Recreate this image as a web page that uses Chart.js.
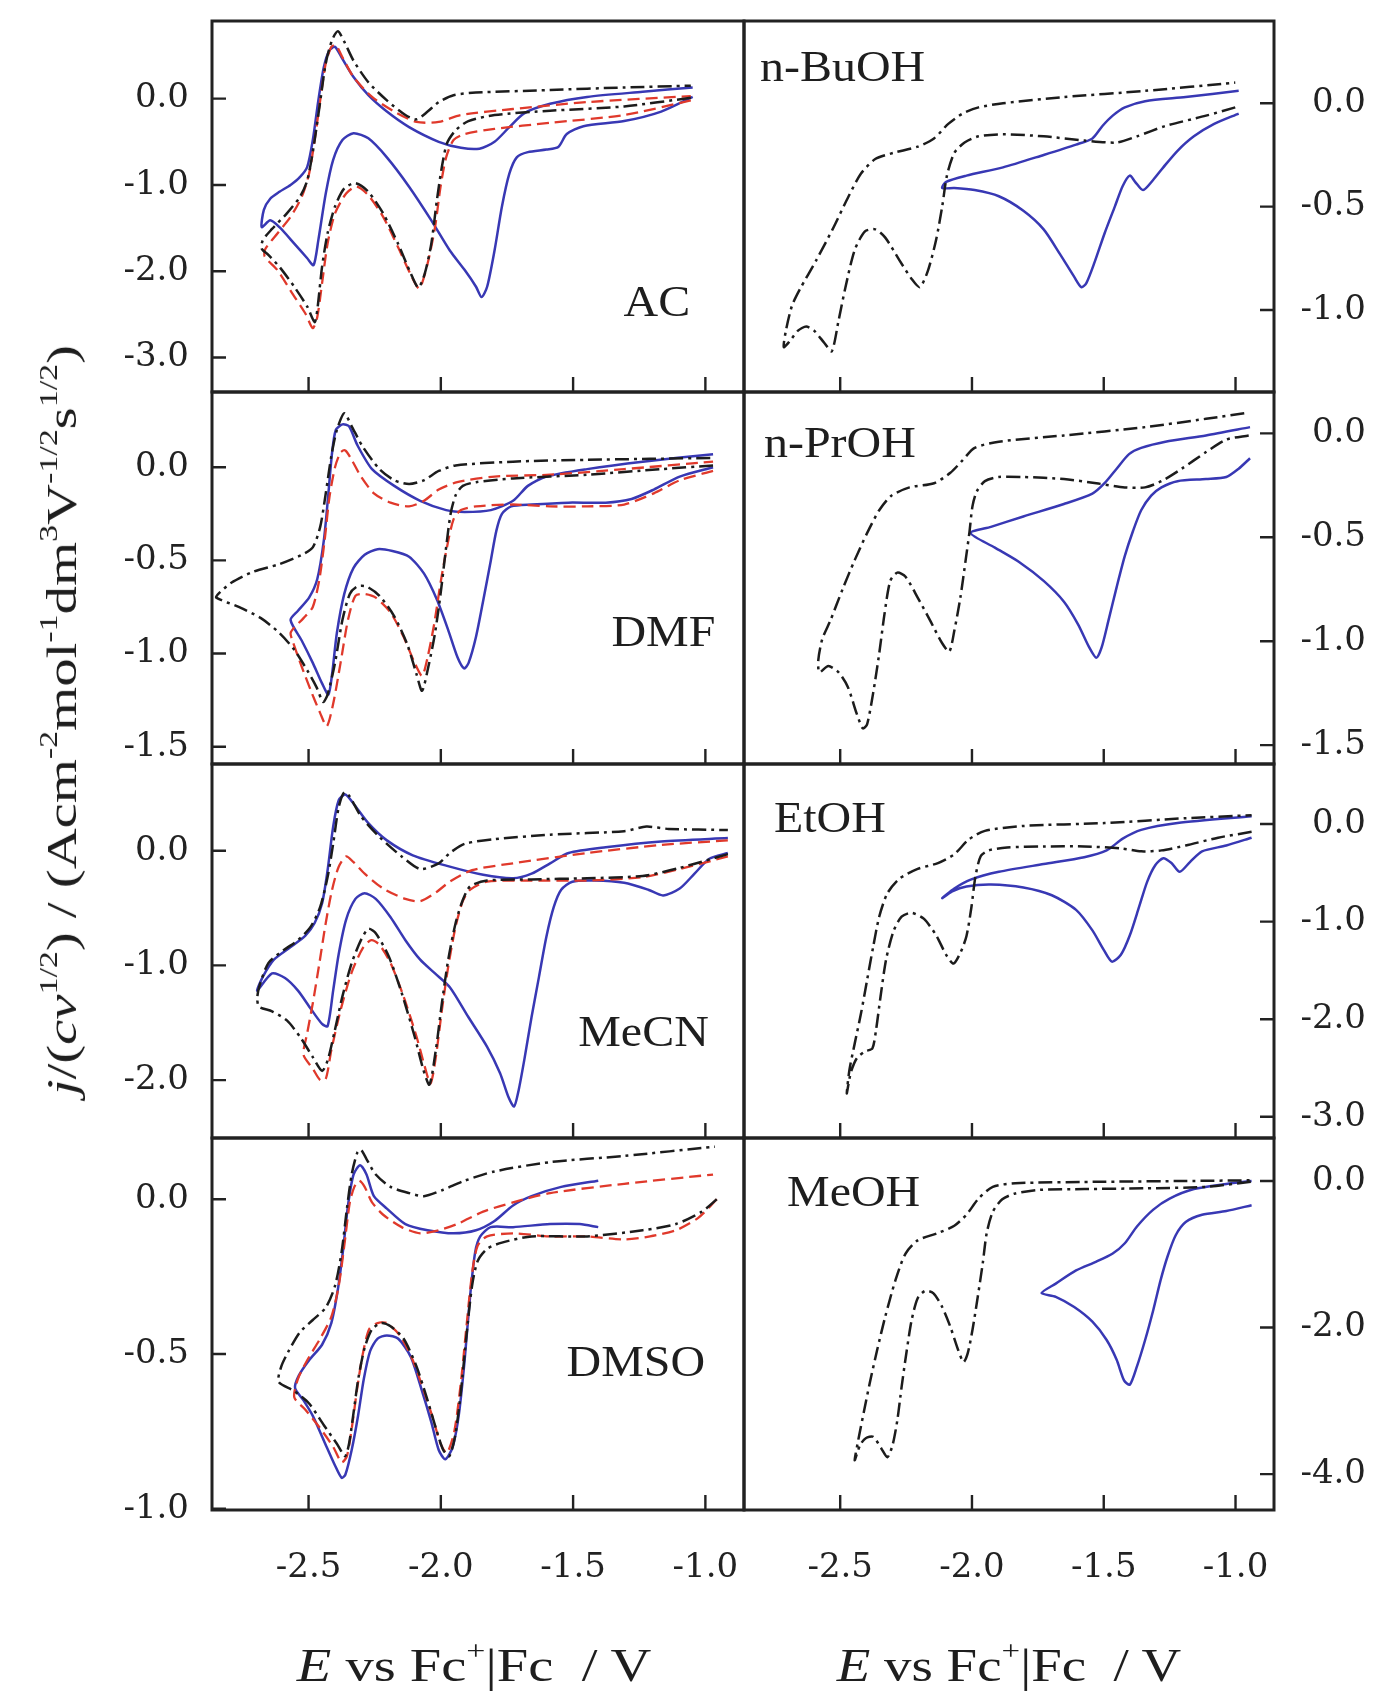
<!DOCTYPE html>
<html>
<head>
<meta charset="utf-8">
<script src="https://cdn.jsdelivr.net/npm/chart.js@4.4.1/dist/chart.umd.min.js"></script>
<style>
  body { margin: 0; background: #fff; }
  #page { position: relative; width: 1376px; height: 1691px; font-family: "Liberation Serif", serif; color: #1e1e1e; overflow: hidden; }
  #page canvas { position: absolute; left: 0; top: 0; }
  .name { position: absolute; font-size: 44px; line-height: 44px; white-space: nowrap; transform: scaleX(1.09); z-index: 5; }
  .title { position: absolute; white-space: pre; z-index: 5; }
  .title sup { font-size: 60%; vertical-align: 0; position: relative; top: -0.75em; line-height: 0; }
</style>
</head>
<body>
<div id="page"></div>
<script>
// E axis (same for every panel)
const xTicks = [-2.5, -2.0, -1.5, -1.0];
const xMin = -2.865, xMax = -0.854;

// ---- AC ----
const acTicks = [0.0, -1.0, -2.0, -3.0];
const acBlack = [[-1.055,0.01],[-1.307,-0.09],[-1.587,-0.14],[-1.797,-0.19],[-1.896,-0.26],[-1.945,-0.37],[-1.977,-0.52],[-1.996,-0.79],[-2.015,-1.18],[-2.036,-1.68],[-2.061,-2.03],[-2.085,-2.19],[-2.113,-2.03],[-2.162,-1.68],[-2.218,-1.33],[-2.274,-1.08],[-2.323,-0.98],[-2.365,-1.04],[-2.400,-1.25],[-2.428,-1.56],[-2.449,-1.95],[-2.467,-2.45],[-2.477,-2.59],[-2.505,-2.41],[-2.554,-2.18],[-2.610,-1.95],[-2.652,-1.81],[-2.677,-1.74],
  [-2.673,-1.64],[-2.638,-1.51],[-2.582,-1.33],[-2.533,-1.14],[-2.505,-0.95],[-2.481,-0.56],[-2.459,-0.10],[-2.435,0.41],[-2.411,0.68],[-2.389,0.78],[-2.365,0.66],[-2.330,0.44],[-2.274,0.19],[-2.204,-0.02],[-2.134,-0.19],[-2.092,-0.24],[-2.050,-0.15],[-2.008,-0.04],[-1.952,0.04],[-1.868,0.07],[-1.587,0.10],[-1.307,0.13],[-1.055,0.15]];
const acRed = [[-1.055,-0.02],[-1.307,-0.19],[-1.587,-0.28],[-1.797,-0.35],[-1.910,-0.41],[-1.952,-0.48],[-1.980,-0.68],[-2.001,-1.02],[-2.022,-1.49],[-2.050,-1.91],[-2.081,-2.20],[-2.109,-2.07],[-2.162,-1.72],[-2.218,-1.37],[-2.274,-1.12],[-2.319,-1.02],[-2.358,-1.10],[-2.400,-1.33],[-2.428,-1.68],[-2.449,-2.14],[-2.467,-2.53],[-2.484,-2.66],[-2.512,-2.49],[-2.561,-2.26],[-2.617,-1.99],[-2.666,-1.83],
  [-2.663,-1.74],[-2.617,-1.56],[-2.568,-1.37],[-2.526,-1.14],[-2.498,-0.87],[-2.477,-0.48],[-2.456,-0.02],[-2.435,0.41],[-2.414,0.60],[-2.397,0.62],[-2.372,0.48],[-2.330,0.25],[-2.260,0.02],[-2.176,-0.15],[-2.092,-0.27],[-2.008,-0.27],[-1.924,-0.19],[-1.727,-0.12],[-1.447,-0.04],[-1.055,0.03]];
const acBlue = [[-1.048,0.02],[-1.167,-0.15],[-1.307,-0.26],[-1.461,-0.32],[-1.524,-0.41],[-1.556,-0.56],[-1.601,-0.59],[-1.671,-0.62],[-1.713,-0.68],[-1.741,-0.87],[-1.769,-1.25],[-1.797,-1.76],[-1.825,-2.18],[-1.846,-2.30],[-1.867,-2.18],[-1.909,-1.99],[-1.966,-1.76],[-2.036,-1.41],[-2.120,-1.02],[-2.204,-0.68],[-2.274,-0.46],[-2.330,-0.40],[-2.372,-0.48],[-2.407,-0.71],[-2.435,-1.10],[-2.463,-1.64],[-2.481,-1.93],[-2.505,-1.85],[-2.554,-1.68],[-2.610,-1.49],[-2.645,-1.41],[-2.677,-1.49],
  [-2.669,-1.29],[-2.645,-1.16],[-2.610,-1.08],[-2.568,-1.00],[-2.533,-0.91],[-2.505,-0.79],[-2.484,-0.48],[-2.463,-0.02],[-2.442,0.37],[-2.421,0.56],[-2.400,0.60],[-2.372,0.46],[-2.330,0.25],[-2.274,0.04],[-2.204,-0.15],[-2.120,-0.33],[-2.008,-0.50],[-1.924,-0.57],[-1.854,-0.58],[-1.797,-0.50],[-1.741,-0.33],[-1.685,-0.17],[-1.587,-0.06],[-1.447,0.02],[-1.237,0.08],[-1.048,0.13]];

// ---- n-BuOH ----
const buTicks = [0.0, -0.5, -1.0];
const buBlack = [[-1.001,-0.02],[-1.112,-0.06],[-1.266,-0.11],[-1.374,-0.16],[-1.451,-0.19],[-1.574,-0.18],[-1.728,-0.16],[-1.882,-0.15],[-1.975,-0.16],[-2.028,-0.19],[-2.067,-0.24],[-2.095,-0.35],[-2.113,-0.50],[-2.136,-0.66],[-2.167,-0.81],[-2.198,-0.89],[-2.229,-0.85],[-2.275,-0.76],[-2.329,-0.65],[-2.367,-0.61],[-2.406,-0.62],[-2.445,-0.71],[-2.480,-0.89],[-2.506,-1.05],[-2.532,-1.20],[-2.560,-1.16],[-2.599,-1.10],[-2.629,-1.08],[-2.660,-1.10],[-2.691,-1.15],[-2.714,-1.18],
  [-2.706,-1.10],[-2.683,-0.98],[-2.653,-0.90],[-2.591,-0.76],[-2.529,-0.61],[-2.468,-0.45],[-2.421,-0.34],[-2.367,-0.27],[-2.298,-0.24],[-2.206,-0.21],[-2.144,-0.17],[-2.090,-0.10],[-2.036,-0.05],[-1.975,-0.02],[-1.882,0.00],[-1.651,0.03],[-1.343,0.06],[-1.001,0.10]];
const buBlue = [[-0.988,-0.05],[-1.081,-0.10],[-1.158,-0.16],[-1.220,-0.23],[-1.274,-0.31],[-1.312,-0.37],[-1.351,-0.42],[-1.381,-0.38],[-1.401,-0.35],[-1.428,-0.40],[-1.458,-0.50],[-1.497,-0.63],[-1.535,-0.77],[-1.566,-0.87],[-1.585,-0.89],[-1.612,-0.84],[-1.666,-0.73],[-1.728,-0.61],[-1.805,-0.52],[-1.898,-0.45],[-1.990,-0.42],[-2.067,-0.41],[-2.113,-0.41],
  [-2.098,-0.38],[-2.021,-0.35],[-1.882,-0.31],[-1.728,-0.25],[-1.605,-0.20],[-1.543,-0.17],[-1.505,-0.11],[-1.466,-0.06],[-1.420,-0.02],[-1.343,0.01],[-1.189,0.03],[-0.988,0.06]];

// ---- DMF ----
const dmfTicks = [0.0, -0.5, -1.0, -1.5];
const dmfBlack = [[-0.971,0.01],[-1.167,-0.01],[-1.447,-0.04],[-1.727,-0.06],[-1.867,-0.08],[-1.917,-0.10],[-1.944,-0.15],[-1.963,-0.25],[-1.980,-0.43],[-2.001,-0.68],[-2.022,-0.89],[-2.047,-1.07],[-2.071,-1.20],[-2.092,-1.11],[-2.127,-0.95],[-2.176,-0.80],[-2.232,-0.69],[-2.281,-0.64],[-2.316,-0.64],[-2.344,-0.68],[-2.372,-0.82],[-2.400,-1.05],[-2.428,-1.22],[-2.445,-1.26],[-2.470,-1.18],[-2.505,-1.09],[-2.554,-0.98],[-2.610,-0.89],[-2.680,-0.81],[-2.764,-0.75],[-2.849,-0.70],
  [-2.841,-0.68],[-2.792,-0.62],[-2.708,-0.56],[-2.610,-0.52],[-2.526,-0.47],[-2.484,-0.43],[-2.456,-0.32],[-2.435,-0.14],[-2.414,0.06],[-2.393,0.20],[-2.365,0.29],[-2.337,0.22],[-2.295,0.11],[-2.232,-0.01],[-2.176,-0.07],[-2.120,-0.09],[-2.064,-0.07],[-2.008,-0.02],[-1.944,0.01],[-1.727,0.03],[-1.447,0.04],[-0.971,0.05]];
const dmfRed = [[-0.971,-0.02],[-1.097,-0.07],[-1.195,-0.14],[-1.307,-0.20],[-1.447,-0.21],[-1.587,-0.21],[-1.727,-0.20],[-1.867,-0.21],[-1.924,-0.23],[-1.952,-0.28],[-1.977,-0.43],[-2.001,-0.62],[-2.025,-0.84],[-2.050,-1.02],[-2.071,-1.12],[-2.099,-1.05],[-2.141,-0.91],[-2.190,-0.78],[-2.246,-0.70],[-2.288,-0.68],[-2.323,-0.69],[-2.351,-0.82],[-2.379,-1.05],[-2.407,-1.27],[-2.431,-1.39],[-2.456,-1.32],[-2.491,-1.20],[-2.526,-1.07],[-2.561,-0.93],[-2.568,-0.89],
  [-2.554,-0.86],[-2.519,-0.81],[-2.484,-0.75],[-2.459,-0.60],[-2.439,-0.39],[-2.421,-0.16],[-2.400,0.00],[-2.379,0.08],[-2.361,0.09],[-2.337,0.04],[-2.302,-0.05],[-2.253,-0.14],[-2.190,-0.19],[-2.120,-0.21],[-2.064,-0.18],[-2.008,-0.12],[-1.938,-0.08],[-1.797,-0.05],[-1.587,-0.04],[-1.307,-0.01],[-0.971,0.03]];
const dmfBlue = [[-0.971,0.00],[-1.097,-0.05],[-1.195,-0.12],[-1.279,-0.17],[-1.377,-0.19],[-1.517,-0.19],[-1.657,-0.20],[-1.734,-0.21],[-1.769,-0.25],[-1.790,-0.34],[-1.811,-0.50],[-1.839,-0.71],[-1.867,-0.91],[-1.895,-1.05],[-1.912,-1.08],[-1.937,-1.02],[-1.973,-0.87],[-2.015,-0.71],[-2.064,-0.57],[-2.120,-0.48],[-2.183,-0.45],[-2.239,-0.44],[-2.288,-0.47],[-2.330,-0.54],[-2.365,-0.68],[-2.393,-0.89],[-2.411,-1.11],[-2.425,-1.22],[-2.449,-1.16],[-2.484,-1.05],[-2.526,-0.93],[-2.568,-0.82],
  [-2.540,-0.77],[-2.498,-0.70],[-2.467,-0.60],[-2.442,-0.39],[-2.425,-0.14],[-2.411,0.08],[-2.397,0.20],[-2.372,0.23],[-2.347,0.22],[-2.316,0.12],[-2.260,-0.01],[-2.176,-0.10],[-2.078,-0.18],[-1.980,-0.23],[-1.910,-0.24],[-1.811,-0.23],[-1.727,-0.18],[-1.671,-0.10],[-1.601,-0.05],[-1.447,-0.01],[-1.237,0.03],[-0.971,0.07]];

// ---- n-PrOH ----
const prTicks = [0.0, -0.5, -1.0, -1.5];
const prBlack = [[-0.950,-0.01],[-1.035,-0.03],[-1.112,-0.09],[-1.204,-0.17],[-1.281,-0.23],[-1.343,-0.26],[-1.420,-0.26],[-1.528,-0.24],[-1.651,-0.22],[-1.805,-0.21],[-1.898,-0.21],[-1.951,-0.23],[-1.982,-0.28],[-1.998,-0.35],[-2.010,-0.48],[-2.024,-0.61],[-2.044,-0.79],[-2.067,-0.95],[-2.086,-1.05],[-2.113,-1.01],[-2.159,-0.90],[-2.206,-0.79],[-2.252,-0.69],[-2.283,-0.67],[-2.310,-0.71],[-2.332,-0.87],[-2.352,-1.06],[-2.375,-1.25],[-2.398,-1.40],[-2.414,-1.42],[-2.437,-1.35],[-2.471,-1.22],[-2.506,-1.15],[-2.545,-1.12],[-2.579,-1.15],
  [-2.583,-1.09],[-2.568,-0.99],[-2.537,-0.90],[-2.491,-0.75],[-2.445,-0.61],[-2.398,-0.48],[-2.352,-0.37],[-2.306,-0.30],[-2.237,-0.26],[-2.144,-0.24],[-2.082,-0.19],[-2.036,-0.13],[-1.990,-0.07],[-1.898,-0.04],[-1.651,-0.01],[-1.343,0.03],[-1.112,0.07],[-0.950,0.10]];
const prBlue = [[-0.945,-0.12],[-0.988,-0.17],[-1.035,-0.21],[-1.112,-0.22],[-1.220,-0.23],[-1.281,-0.26],[-1.320,-0.30],[-1.358,-0.37],[-1.389,-0.47],[-1.420,-0.59],[-1.451,-0.74],[-1.482,-0.90],[-1.508,-1.03],[-1.528,-1.08],[-1.555,-1.03],[-1.597,-0.92],[-1.651,-0.81],[-1.728,-0.71],[-1.820,-0.62],[-1.913,-0.55],[-2.005,-0.48],
  [-1.928,-0.45],[-1.805,-0.40],[-1.651,-0.34],[-1.543,-0.29],[-1.497,-0.24],[-1.451,-0.17],[-1.404,-0.10],[-1.358,-0.07],[-1.266,-0.04],[-1.112,-0.01],[-0.945,0.03]];

// ---- MeCN ----
const mecnTicks = [0.0, -1.0, -2.0];
const mecnBlack = [[-0.915,-0.03],[-1.097,-0.15],[-1.237,-0.22],[-1.447,-0.24],[-1.657,-0.25],[-1.825,-0.26],[-1.889,-0.31],[-1.917,-0.43],[-1.944,-0.63],[-1.972,-0.95],[-1.996,-1.33],[-2.019,-1.74],[-2.043,-2.04],[-2.066,-1.91],[-2.099,-1.62],[-2.148,-1.24],[-2.197,-0.92],[-2.246,-0.72],[-2.274,-0.68],[-2.302,-0.78],[-2.337,-0.98],[-2.372,-1.27],[-2.403,-1.59],[-2.428,-1.83],[-2.449,-1.92],[-2.484,-1.80],[-2.533,-1.62],[-2.582,-1.48],[-2.638,-1.40],[-2.687,-1.36],[-2.694,-1.29],
  [-2.687,-1.19],[-2.652,-0.98],[-2.596,-0.87],[-2.540,-0.78],[-2.491,-0.66],[-2.456,-0.49],[-2.428,-0.23],[-2.407,0.06],[-2.386,0.38],[-2.365,0.51],[-2.344,0.47],[-2.302,0.30],[-2.232,0.12],[-2.148,-0.05],[-2.078,-0.16],[-2.008,-0.11],[-1.966,-0.02],[-1.910,0.06],[-1.797,0.10],[-1.587,0.14],[-1.307,0.17],[-1.223,0.21],[-1.139,0.19],[-0.915,0.18]];
const mecnRed = [[-0.915,-0.05],[-1.097,-0.16],[-1.237,-0.23],[-1.447,-0.26],[-1.657,-0.26],[-1.825,-0.27],[-1.889,-0.34],[-1.917,-0.44],[-1.944,-0.66],[-1.972,-1.01],[-1.996,-1.39],[-2.019,-1.80],[-2.039,-2.03],[-2.061,-1.88],[-2.092,-1.62],[-2.141,-1.27],[-2.190,-0.98],[-2.232,-0.82],[-2.263,-0.78],[-2.295,-0.85],[-2.337,-1.06],[-2.379,-1.39],[-2.414,-1.74],[-2.435,-1.99],[-2.456,-2.00],[-2.484,-1.90],[-2.519,-1.78],
  [-2.505,-1.59],[-2.484,-1.33],[-2.459,-0.98],[-2.435,-0.63],[-2.411,-0.34],[-2.386,-0.14],[-2.358,-0.05],[-2.330,-0.10],[-2.288,-0.20],[-2.218,-0.33],[-2.134,-0.42],[-2.078,-0.44],[-2.022,-0.37],[-1.966,-0.27],[-1.882,-0.17],[-1.727,-0.11],[-1.447,-0.02],[-1.167,0.05],[-0.915,0.09]];
const mecnBlue = [[-0.915,-0.02],[-0.985,-0.07],[-1.041,-0.20],[-1.097,-0.33],[-1.160,-0.39],[-1.216,-0.34],[-1.307,-0.28],[-1.419,-0.26],[-1.503,-0.27],[-1.545,-0.34],[-1.573,-0.49],[-1.601,-0.75],[-1.629,-1.10],[-1.657,-1.45],[-1.685,-1.83],[-1.706,-2.09],[-1.723,-2.23],[-1.744,-2.15],[-1.776,-1.94],[-1.825,-1.71],[-1.896,-1.45],[-1.966,-1.19],[-2.022,-1.07],[-2.078,-0.95],[-2.134,-0.78],[-2.190,-0.58],[-2.246,-0.42],[-2.288,-0.37],[-2.323,-0.42],[-2.358,-0.60],[-2.386,-0.90],[-2.407,-1.22],[-2.428,-1.53],[-2.449,-1.51],[-2.491,-1.38],[-2.540,-1.22],[-2.589,-1.11],[-2.638,-1.07],[-2.694,-1.22],
  [-2.673,-1.10],[-2.631,-0.95],[-2.568,-0.84],[-2.512,-0.74],[-2.477,-0.63],[-2.449,-0.46],[-2.428,-0.17],[-2.407,0.21],[-2.386,0.44],[-2.361,0.49],[-2.330,0.41],[-2.274,0.24],[-2.204,0.09],[-2.106,-0.04],[-1.980,-0.13],[-1.840,-0.21],[-1.727,-0.24],[-1.657,-0.20],[-1.587,-0.11],[-1.517,-0.02],[-1.377,0.03],[-1.167,0.08],[-0.915,0.11]];

// ---- EtOH ----
const etTicks = [0.0, -1.0, -2.0, -3.0];
const etBlack = [[-0.939,-0.08],[-1.066,-0.14],[-1.189,-0.22],[-1.281,-0.27],[-1.358,-0.28],[-1.435,-0.25],[-1.574,-0.23],[-1.728,-0.23],[-1.867,-0.24],[-1.936,-0.27],[-1.967,-0.33],[-1.987,-0.54],[-2.002,-0.85],[-2.021,-1.15],[-2.044,-1.32],[-2.070,-1.43],[-2.098,-1.34],[-2.136,-1.14],[-2.183,-0.97],[-2.229,-0.91],[-2.267,-0.95],[-2.298,-1.10],[-2.326,-1.39],[-2.347,-1.77],[-2.364,-2.11],[-2.378,-2.30],[-2.406,-2.33],[-2.437,-2.40],[-2.460,-2.55],[-2.475,-2.76],
  [-2.465,-2.52],[-2.445,-2.25],[-2.421,-1.94],[-2.398,-1.60],[-2.375,-1.26],[-2.352,-0.95],[-2.321,-0.71],[-2.275,-0.56],[-2.206,-0.46],[-2.129,-0.40],[-2.067,-0.31],[-2.013,-0.16],[-1.951,-0.07],[-1.805,-0.02],[-1.497,0.01],[-1.189,0.06],[-0.939,0.09]];
const etBlue = [[-0.939,-0.14],[-1.035,-0.22],[-1.127,-0.28],[-1.173,-0.39],[-1.212,-0.49],[-1.243,-0.40],[-1.274,-0.35],[-1.304,-0.42],[-1.335,-0.59],[-1.366,-0.85],[-1.401,-1.14],[-1.435,-1.34],[-1.469,-1.41],[-1.500,-1.29],[-1.543,-1.09],[-1.605,-0.88],[-1.697,-0.73],[-1.805,-0.65],[-1.928,-0.62],[-2.021,-0.64],[-2.075,-0.69],[-2.113,-0.76],
  [-2.067,-0.66],[-2.005,-0.57],[-1.898,-0.49],[-1.728,-0.41],[-1.574,-0.34],[-1.489,-0.27],[-1.428,-0.15],[-1.358,-0.06],[-1.220,0.01],[-0.939,0.08]];

// ---- DMSO ----
const dmsoTicks = [0.0, -0.5, -1.0];
const dmsoBlack = [[-0.957,0.00],[-1.013,-0.04],[-1.111,-0.08],[-1.237,-0.10],[-1.447,-0.12],[-1.657,-0.12],[-1.769,-0.14],[-1.825,-0.16],[-1.861,-0.20],[-1.882,-0.28],[-1.903,-0.44],[-1.924,-0.62],[-1.945,-0.76],[-1.968,-0.83],[-1.991,-0.81],[-2.015,-0.75],[-2.050,-0.65],[-2.092,-0.54],[-2.141,-0.45],[-2.190,-0.41],[-2.225,-0.40],[-2.260,-0.42],[-2.288,-0.48],[-2.312,-0.58],[-2.330,-0.69],[-2.347,-0.79],[-2.362,-0.83],[-2.393,-0.79],[-2.442,-0.73],[-2.498,-0.66],[-2.554,-0.62],[-2.613,-0.59],
  [-2.603,-0.54],[-2.575,-0.49],[-2.533,-0.43],[-2.484,-0.39],[-2.435,-0.35],[-2.400,-0.28],[-2.375,-0.17],[-2.355,-0.03],[-2.337,0.08],[-2.316,0.15],[-2.302,0.16],[-2.281,0.13],[-2.246,0.08],[-2.190,0.04],[-2.120,0.02],[-2.064,0.01],[-1.993,0.03],[-1.910,0.06],[-1.797,0.09],[-1.587,0.12],[-1.307,0.14],[-0.964,0.17]];
const dmsoRed = [[-0.957,0.00],[-1.027,-0.06],[-1.111,-0.10],[-1.209,-0.12],[-1.307,-0.13],[-1.447,-0.12],[-1.587,-0.12],[-1.727,-0.11],[-1.825,-0.12],[-1.861,-0.15],[-1.882,-0.24],[-1.903,-0.41],[-1.924,-0.59],[-1.949,-0.75],[-1.977,-0.82],[-2.001,-0.79],[-2.029,-0.71],[-2.064,-0.62],[-2.106,-0.52],[-2.155,-0.44],[-2.204,-0.40],[-2.239,-0.40],[-2.271,-0.42],[-2.295,-0.50],[-2.316,-0.61],[-2.335,-0.73],[-2.355,-0.83],[-2.375,-0.85],[-2.407,-0.80],[-2.456,-0.74],[-2.512,-0.68],[-2.554,-0.64],
  [-2.540,-0.58],[-2.505,-0.52],[-2.456,-0.45],[-2.414,-0.38],[-2.386,-0.28],[-2.365,-0.15],[-2.344,-0.01],[-2.327,0.04],[-2.309,0.06],[-2.288,0.04],[-2.260,-0.01],[-2.218,-0.05],[-2.148,-0.09],[-2.078,-0.11],[-2.008,-0.10],[-1.938,-0.08],[-1.840,-0.04],[-1.727,-0.01],[-1.587,0.02],[-1.307,0.05],[-0.971,0.08]];
const dmsoBlue = [[-1.405,-0.09],[-1.475,-0.08],[-1.587,-0.08],[-1.727,-0.09],[-1.812,-0.09],[-1.851,-0.12],[-1.870,-0.17],[-1.889,-0.31],[-1.910,-0.52],[-1.931,-0.69],[-1.955,-0.80],[-1.983,-0.84],[-2.008,-0.81],[-2.036,-0.72],[-2.071,-0.62],[-2.113,-0.51],[-2.162,-0.45],[-2.204,-0.44],[-2.239,-0.45],[-2.267,-0.49],[-2.291,-0.58],[-2.313,-0.70],[-2.337,-0.81],[-2.361,-0.89],[-2.375,-0.90],[-2.400,-0.86],[-2.442,-0.78],[-2.484,-0.70],[-2.519,-0.65],[-2.551,-0.61],
  [-2.537,-0.57],[-2.498,-0.52],[-2.449,-0.47],[-2.414,-0.40],[-2.389,-0.29],[-2.369,-0.16],[-2.351,-0.02],[-2.330,0.08],[-2.305,0.11],[-2.281,0.08],[-2.253,0.01],[-2.204,-0.03],[-2.134,-0.08],[-2.050,-0.10],[-1.952,-0.11],[-1.867,-0.10],[-1.797,-0.07],[-1.727,-0.02],[-1.657,0.01],[-1.545,0.04],[-1.405,0.06]];

// ---- MeOH ----
const meTicks = [0.0, -2.0, -4.0];
const meBlack = [[-0.942,-0.01],[-1.112,-0.08],[-1.343,-0.10],[-1.574,-0.11],[-1.743,-0.12],[-1.836,-0.17],[-1.885,-0.25],[-1.921,-0.42],[-1.944,-0.71],[-1.959,-1.12],[-1.978,-1.58],[-1.998,-2.03],[-2.016,-2.35],[-2.032,-2.47],[-2.052,-2.31],[-2.082,-1.99],[-2.113,-1.72],[-2.147,-1.53],[-2.178,-1.50],[-2.206,-1.60],[-2.229,-1.90],[-2.249,-2.35],[-2.267,-2.81],[-2.283,-3.26],[-2.301,-3.60],[-2.321,-3.77],[-2.344,-3.65],[-2.375,-3.49],[-2.403,-3.51],[-2.424,-3.60],[-2.445,-3.81],
  [-2.429,-3.49],[-2.409,-3.13],[-2.388,-2.76],[-2.360,-2.31],[-2.329,-1.85],[-2.290,-1.35],[-2.252,-0.99],[-2.206,-0.81],[-2.129,-0.71],[-2.067,-0.61],[-2.021,-0.46],[-1.975,-0.24],[-1.921,-0.08],[-1.836,-0.03],[-1.497,-0.01],[-1.189,0.00],[-0.942,0.01]];
const meBlue = [[-0.939,-0.33],[-1.035,-0.41],[-1.127,-0.46],[-1.189,-0.56],[-1.227,-0.74],[-1.258,-1.03],[-1.284,-1.35],[-1.312,-1.76],[-1.343,-2.17],[-1.374,-2.53],[-1.401,-2.78],[-1.423,-2.72],[-1.451,-2.44],[-1.489,-2.17],[-1.543,-1.92],[-1.612,-1.72],[-1.682,-1.58],[-1.736,-1.53],
  [-1.682,-1.40],[-1.605,-1.22],[-1.528,-1.10],[-1.466,-0.99],[-1.420,-0.85],[-1.374,-0.62],[-1.312,-0.39],[-1.250,-0.24],[-1.158,-0.11],[-1.035,-0.04],[-0.939,0.00]];

// ---- layout ----
const W = 1376, H = 1691;
const colEdges = [212, 744, 1274];
const rowEdges = [21, 392, 764, 1138, 1510];
const FONT = "Liberation Serif";
const TICK_FONT = { family: "DejaVu Serif", size: 34 };
const Y_LEFT_W = 110, Y_RIGHT_W = 92, X_H = 90;

const panels = [
  { name: "AC",     col: 0, row: 0, yMin: -3.40,  yMax: 0.90,  ticks: acTicks,   black: acBlack,   red: acRed,   blue: acBlue,   lx: 690, ly: 317, right: true },
  { name: "n-BuOH", col: 1, row: 0, yMin: -1.397, yMax: 0.398, ticks: buTicks,   black: buBlack,   blue: buBlue,   lx: 760, ly: 82 },
  { name: "DMF",    col: 0, row: 1, yMin: -1.593, yMax: 0.404, ticks: dmfTicks,  black: dmfBlack,  red: dmfRed,  blue: dmfBlue,  lx: 715, ly: 647, right: true },
  { name: "n-PrOH", col: 1, row: 1, yMin: -1.591, yMax: 0.199, ticks: prTicks,   black: prBlack,   blue: prBlue,   lx: 764, ly: 458 },
  { name: "MeCN",   col: 0, row: 2, yMin: -2.505, yMax: 0.756, ticks: mecnTicks, black: mecnBlack, red: mecnRed, blue: mecnBlue, lx: 709, ly: 1047, right: true },
  { name: "EtOH",   col: 1, row: 2, yMin: -3.217, yMax: 0.615, ticks: etTicks,   black: etBlack,   blue: etBlue,   lx: 774, ly: 833 },
  { name: "DMSO",   col: 0, row: 3, yMin: -1.004, yMax: 0.198, ticks: dmsoTicks, black: dmsoBlack, red: dmsoRed, blue: dmsoBlue, lx: 705, ly: 1377, right: true },
  { name: "MeOH",   col: 1, row: 3, yMin: -4.49,  yMax: 0.587, ticks: meTicks,   black: meBlack,   blue: meBlue,   lx: 787, ly: 1207 }
];

const lineStyles = {
  black: { borderColor: "#1c1c1c", borderWidth: 2.5, borderDash: [14, 5, 3, 5] },
  red:   { borderColor: "#e0392b", borderWidth: 2.3, borderDash: [12, 6] },
  blue:  { borderColor: "#3838b4", borderWidth: 2.5, borderDash: [] }
};

// frame + inward tick marks
const framePlugin = {
  id: "frame",
  afterDraw(chart) {
    const { ctx, chartArea: a, scales } = chart;
    ctx.save();
    ctx.strokeStyle = "#222";
    ctx.lineWidth = 3;
    ctx.strokeRect(a.left, a.top, a.width, a.height);
    ctx.lineWidth = 2.4;
    ctx.beginPath();
    scales.x.ticks.forEach(t => {
      const px = scales.x.getPixelForValue(t.value);
      ctx.moveTo(px, a.bottom);
      ctx.lineTo(px, a.bottom - 15);
    });
    const ys = scales.y;
    ys.ticks.forEach(t => {
      const py = ys.getPixelForValue(t.value);
      if (ys.position === "left") { ctx.moveTo(a.left, py); ctx.lineTo(a.left + 14, py); }
      else { ctx.moveTo(a.right, py); ctx.lineTo(a.right - 14, py); }
    });
    ctx.stroke();
    ctx.restore();
  }
};

const page = document.getElementById("page");
const pts = arr => arr.map(([x, y]) => ({ x, y }));
const noPad = s => { s.paddingTop = 0; s.paddingBottom = 0; s.paddingLeft = 0; s.paddingRight = 0; };

panels.forEach(p => {
  const cv = document.createElement("canvas");
  cv.width = W; cv.height = H;
  page.appendChild(cv);

  const left = p.col === 0;
  const datasets = [];
  ["black", "red", "blue"].forEach(k => {
    if (!p[k]) return;
    datasets.push(Object.assign({
      data: pts(p[k]), showLine: true, pointRadius: 0, tension: 0.25, fill: false
    }, lineStyles[k]));
  });

  new Chart(cv, {
    type: "scatter",
    data: { datasets },
    options: {
      responsive: false, animation: false, devicePixelRatio: 1, events: [],
      layout: {
        padding: {
          left: left ? colEdges[0] - Y_LEFT_W : colEdges[1],
          right: left ? W - colEdges[1] : W - colEdges[2] - Y_RIGHT_W,
          top: rowEdges[p.row],
          bottom: H - rowEdges[p.row + 1] - X_H
        }
      },
      plugins: { legend: { display: false }, tooltip: { enabled: false } },
      scales: {
        x: {
          type: "linear", position: "bottom", min: xMin, max: xMax,
          afterBuildTicks: s => { s.ticks = xTicks.map(v => ({ value: v })); },
          afterFit: s => { s.height = X_H; noPad(s); },
          grid: { display: false, drawTicks: false },
          border: { display: false },
          ticks: {
            display: p.row === 3, autoSkip: false, maxRotation: 0, minRotation: 0,
            padding: 38, color: "#222", font: TICK_FONT,
            callback: v => v.toFixed(1)
          }
        },
        y: {
          type: "linear", position: left ? "left" : "right", min: p.yMin, max: p.yMax,
          afterBuildTicks: s => { s.ticks = p.ticks.map(v => ({ value: v })); },
          afterFit: s => { s.width = left ? Y_LEFT_W : Y_RIGHT_W; noPad(s); },
          grid: { display: false, drawTicks: false },
          border: { display: false },
          ticks: {
            autoSkip: false, padding: left ? 23 : 0, crossAlign: left ? "near" : "far",
            color: "#222", font: TICK_FONT,
            callback: v => v.toFixed(1)
          }
        }
      }
    },
    plugins: [framePlugin]
  });

  // solvent label
  const d = document.createElement("div");
  d.className = "name";
  d.textContent = p.name;
  d.style.top = (p.ly - 0.8375 * 44) + "px";
  if (p.right) { d.style.right = (W - p.lx) + "px"; d.style.transformOrigin = "right center"; }
  else { d.style.left = p.lx + "px"; d.style.transformOrigin = "left center"; }
  page.appendChild(d);
});

// axis titles
function addTitle(html, size, cx, cy, target, rotate) {
  const d = document.createElement("div");
  d.className = "title";
  d.innerHTML = html;
  d.style.fontSize = size + "px";
  d.style.lineHeight = size + "px";
  d.style.left = cx + "px";
  d.style.top = cy + "px";
  page.appendChild(d);
  const k = target / d.offsetWidth;
  d.style.transform = "translate(-50%,-50%)" + (rotate ? " rotate(-90deg)" : "") + " scaleX(" + k.toFixed(3) + ")";
}
const xTitle = "<i>E</i> vs Fc<sup>+</sup>|Fc&nbsp; / V";
addTitle(xTitle, 47, 474, 1665, 355, false);
addTitle(xTitle, 47, 1009, 1665, 345, false);
addTitle("<i>j</i>/(<i>cv</i><sup>1/2</sup>) / (Acm<sup>-2</sup>mol<sup>-1</sup>dm<sup>3</sup>V<sup>-1/2</sup>s<sup>1/2</sup>)", 42, 62, 720, 750, true);
</script>
</body>
</html>
